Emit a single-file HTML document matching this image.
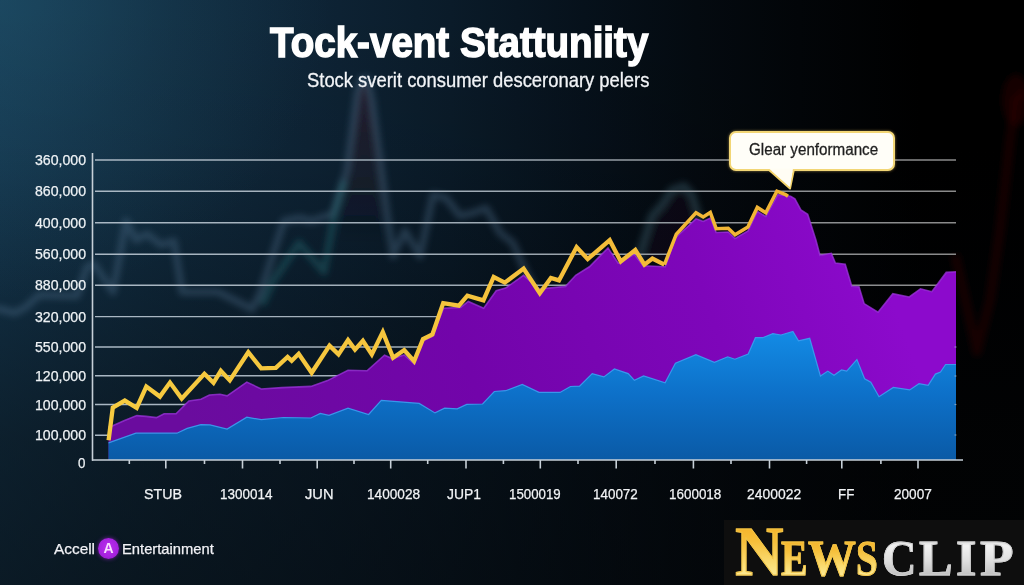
<!DOCTYPE html>
<html><head><meta charset="utf-8"><title>Tock-vent Stattuniity</title>
<style>
html,body{margin:0;padding:0;}
body{width:1024px;height:585px;overflow:hidden;position:relative;background:#000;font-family:"Liberation Sans",Arial,sans-serif;}
#bg{position:absolute;left:0;top:0;width:1024px;height:585px;
background:
 radial-gradient(ellipse 330px 300px at 0px 0px, rgba(34,88,112,0.45) 0%, rgba(34,88,112,0.18) 50%, rgba(34,88,112,0) 100%),
 linear-gradient(to bottom, rgba(0,0,0,0) 0%, rgba(0,0,0,0.06) 25%, rgba(1,3,6,0.28) 50%, rgba(3,5,7,0.5) 75%, rgba(3,5,7,0.6) 100%),
 linear-gradient(to right, #163a53 0%, #14344b 7%, #112c40 17%, #0e2436 30%, #0a1b29 44%, #06111b 57%, #040a10 68%, #020508 78%, #000 90%);}
svg{position:absolute;left:0;top:0;}
.tx{position:absolute;white-space:nowrap;transform-origin:0 0;}
.t1{color:#ffffff;-webkit-text-stroke:1.5px #ffffff;}
.t2{color:#f2f4f7;-webkit-text-stroke:0.3px #f2f4f7;}
.yl{color:#eef2f5;-webkit-text-stroke:0.25px #eef2f5;}
.xl{color:#f2f4f6;-webkit-text-stroke:0.25px #f2f4f6;}
.tip{position:absolute;left:728.5px;top:131px;width:162px;height:36px;background:#fffef8;border:2px solid #f2d676;border-radius:7px;box-sizing:content-box;box-shadow:0 0 3px rgba(255,215,110,0.55);}
.tiptxt{color:#1f1f1f;-webkit-text-stroke:0.3px #1f1f1f;}
.logo{color:#f2f2f6;-webkit-text-stroke:0.25px #f2f2f6;}
.lc{position:absolute;left:98px;top:537.8px;width:21px;height:21px;border-radius:50%;background:radial-gradient(circle at 50% 45%, #bc2ef0 0%, #a622de 60%, #8a14c0 100%);box-shadow:0 0 4px rgba(170,40,230,0.6);color:#f8dcff;text-align:center;line-height:21px;font-weight:bold;font-size:14px;}
.nc{position:absolute;left:724px;top:520px;width:300px;height:65px;background:#0e0e0e;}
.nl{-webkit-background-clip:text;background-clip:text;color:transparent;}
.nl.g{-webkit-text-stroke:0.9px #f3c547;background-image:linear-gradient(to bottom, #f4ad22 0%, #f6bf3a 35%, #fbe07a 70%, #fff4b4 100%);}
.nl.s{-webkit-text-stroke:0.9px #cfcfcf;background-image:linear-gradient(to bottom, #b8b8b8 0%, #f2f2f2 25%, #dedede 55%, #c4c4c4 80%, #e6e6e6 100%);}
</style></head><body>
<div id="bg"></div>
<svg width="1024" height="585" viewBox="0 0 1024 585">
<defs>
<filter id="blur6" x="-20%" y="-20%" width="140%" height="140%"><feGaussianBlur stdDeviation="3.2"/></filter>
<linearGradient id="gred" x1="0" y1="0" x2="0" y2="1"><stop offset="0" stop-color="#3a1c2c" stop-opacity="0.5"/><stop offset="0.6" stop-color="#2c1a26" stop-opacity="0.3"/><stop offset="1" stop-color="#1a1420" stop-opacity="0"/></linearGradient>
<linearGradient id="gy" gradientUnits="userSpaceOnUse" x1="100" y1="0" x2="790" y2="0"><stop offset="0" stop-color="#f6cb40"/><stop offset="0.6" stop-color="#f5c23c"/><stop offset="1" stop-color="#f1b234"/></linearGradient>
<linearGradient id="gg" gradientUnits="userSpaceOnUse" x1="95" y1="0" x2="956" y2="0"><stop offset="0" stop-color="#aab8c4"/><stop offset="0.45" stop-color="#9eaab4"/><stop offset="0.75" stop-color="#8e9296"/><stop offset="1" stop-color="#8a8a8a"/></linearGradient>
<linearGradient id="gp" gradientUnits="userSpaceOnUse" x1="200" y1="450" x2="860" y2="210"><stop offset="0" stop-color="#6a0c9e"/><stop offset="0.4" stop-color="#7204aa"/><stop offset="0.75" stop-color="#7e06ba"/><stop offset="1" stop-color="#8c0acc"/></linearGradient>
<linearGradient id="gb" gradientUnits="userSpaceOnUse" x1="0" y1="330" x2="0" y2="460"><stop offset="0" stop-color="#138ce6"/><stop offset="0.5" stop-color="#0d70c8"/><stop offset="1" stop-color="#0a5aa6"/></linearGradient>
</defs>
<g filter="url(#blur6)" fill="none" stroke-linejoin="round">
<polygon points="346.0,175.0 357.0,97.0 361.0,84.0 367.0,82.0 372.0,104.0 379.0,146.0 388.0,214.0 391.0,245.0 340.0,245.0 341.0,200.0" fill="url(#gred)" stroke="none"/>
<polyline points="-5.0,308.0 15.0,313.0 26.0,307.0 39.0,295.0 77.0,296.0 87.0,267.0 94.0,264.0 113.0,292.0 126.0,221.0 136.0,240.0 147.0,234.0 161.0,245.0 174.0,241.0 182.0,292.0 218.0,292.0 252.0,309.0 260.0,294.0 284.0,221.0 300.0,218.0 311.0,221.0 333.0,214.0 340.0,192.0 347.0,170.0 357.0,95.0 361.0,80.0 367.0,78.0 372.0,100.0 378.0,145.0 387.0,214.0 391.0,241.0 393.0,256.0 405.0,231.0 420.0,256.0 433.0,195.0 446.0,198.0 460.0,216.0 473.0,213.0 486.0,208.0 500.0,233.0 513.0,243.0 523.0,266.0 540.0,300.0" stroke="#527590" stroke-opacity="0.36" stroke-width="7"/>
<polyline points="262.0,305.0 273.0,281.0 299.0,243.0 324.0,272.0 335.0,212.0 344.0,181.0" stroke="#2f7a80" stroke-opacity="0.35" stroke-width="7"/>
<polygon points="645.0,240.0 655.0,214.0 666.0,200.0 676.0,190.0 686.0,189.0 694.0,200.0 700.0,225.0 700.0,260.0 645.0,260.0" fill="#2a1622" fill-opacity="0.22" stroke="none"/>
<polyline points="615.0,300.0 630.0,285.0 642.0,247.0 652.0,216.0 662.0,205.0 672.0,190.0 684.0,186.0 692.0,195.0 698.0,215.0 704.0,245.0" stroke="#4d7e90" stroke-opacity="0.3" stroke-width="8"/>
<polyline points="955.0,255.0 962.0,285.0 977.0,352.0 990.0,300.0 1000.0,230.0 1010.0,140.0 1016.0,100.0 1024.0,92.0" stroke="#3a0a0a" stroke-opacity="0.4" stroke-width="9"/>
<ellipse cx="1016" cy="100" rx="14" ry="26" fill="#2a0606" fill-opacity="0.5" stroke="none"/>
</g>
<g stroke="url(#gg)" stroke-width="1.4">
<line x1="95" y1="160" x2="956" y2="160" />
<line x1="95" y1="191.3" x2="956" y2="191.3" />
<line x1="95" y1="222.7" x2="956" y2="222.7" />
<line x1="95" y1="254.3" x2="956" y2="254.3" />
<line x1="95" y1="285.2" x2="956" y2="285.2" />
<line x1="95" y1="316.6" x2="956" y2="316.6" />
<line x1="95" y1="347" x2="956" y2="347" />
<line x1="95" y1="375.8" x2="956" y2="375.8" />
<line x1="95" y1="404.5" x2="956" y2="404.5" />
<line x1="95" y1="435.2" x2="956" y2="435.2" />
</g>
<path d="M108.5,460 L108.5,426.7 L112.8,425.8 L123.9,420.7 L136.8,415.6 L146.2,416.4 L156.4,417.6 L164.1,413.8 L176.0,413.8 L188.9,401.0 L200.9,399.3 L209.4,395.0 L220.0,394.2 L227.1,395.8 L246.8,382.1 L261.3,389.0 L281.8,387.6 L310.9,386.4 L327.5,380.6 L348.0,370.2 L367.0,370.8 L384.5,355.2 L392.2,358.6 L404.2,354.9 L414.1,363.8 L423.0,340.7 L432.4,336.4 L443.5,308.2 L460.6,307.4 L468.3,301.4 L483.7,308.2 L496.2,290.7 L505.6,288.1 L523.6,275.3 L539.0,289.0 L565.5,286.4 L575.7,275.3 L589.4,266.8 L608.0,247.9 L618.2,263.2 L634.4,254.4 L643.0,265.8 L665.2,266.7 L675.5,237.6 L696.0,218.8 L703.2,221.5 L710.3,218.0 L716.2,232.5 L728.2,232.0 L735.0,238.5 L747.9,231.0 L757.3,211.5 L765.8,216.5 L777.8,194.5 L790.6,196.2 L794.9,198.8 L800.9,209.9 L807.7,214.2 L815.9,240.0 L820.0,255.4 L831.3,253.3 L835.4,263.0 L845.2,264.2 L851.8,286.2 L859.0,286.8 L864.1,303.6 L878.0,312.2 L892.8,293.7 L909.2,297.0 L920.5,288.8 L931.8,291.7 L946.2,272.4 L956.0,271.8 L956.0,460 Z" fill="url(#gp)"/>
<polyline points="108.5,426.7 112.8,425.8 123.9,420.7 136.8,415.6 146.2,416.4 156.4,417.6 164.1,413.8 176.0,413.8 188.9,401.0 200.9,399.3 209.4,395.0 220.0,394.2 227.1,395.8 246.8,382.1 261.3,389.0 281.8,387.6 310.9,386.4 327.5,380.6 348.0,370.2 367.0,370.8 384.5,355.2 392.2,358.6 404.2,354.9 414.1,363.8 423.0,340.7 432.4,336.4 443.5,308.2 460.6,307.4 468.3,301.4 483.7,308.2 496.2,290.7 505.6,288.1 523.6,275.3 539.0,289.0 565.5,286.4 575.7,275.3 589.4,266.8 608.0,247.9 618.2,263.2 634.4,254.4 643.0,265.8 665.2,266.7 675.5,237.6 696.0,218.8 703.2,221.5 710.3,218.0 716.2,232.5 728.2,232.0 735.0,238.5 747.9,231.0 757.3,211.5 765.8,216.5 777.8,194.5 790.6,196.2 794.9,198.8 800.9,209.9 807.7,214.2 815.9,240.0 820.0,255.4 831.3,253.3 835.4,263.0 845.2,264.2 851.8,286.2 859.0,286.8 864.1,303.6 878.0,312.2 892.8,293.7 909.2,297.0 920.5,288.8 931.8,291.7 946.2,272.4 956.0,271.8" fill="none" stroke="#9c34dc" stroke-width="1.6" opacity="0.75"/>
<path d="M108.5,460 L108.5,442.9 L135.9,433.2 L176.9,433.2 L187.2,428.4 L200.9,424.6 L210.0,424.9 L227.1,429.1 L246.8,417.2 L261.3,419.7 L283.5,417.5 L310.9,418.0 L320.3,413.4 L329.0,415.4 L348.0,408.2 L368.6,414.5 L381.3,400.3 L419.2,403.4 L435.0,412.9 L444.6,408.2 L457.2,408.8 L466.7,404.4 L482.6,404.0 L494.3,391.5 L505.6,390.7 L522.3,384.4 L539.0,392.4 L560.0,392.4 L570.4,386.5 L579.6,386.1 L592.2,373.6 L603.9,376.9 L614.4,369.0 L628.2,373.6 L634.4,380.3 L643.6,376.0 L665.1,382.8 L675.4,363.3 L695.9,354.7 L714.4,362.3 L727.7,356.8 L734.9,359.2 L748.2,354.1 L755.4,337.7 L762.6,337.7 L772.8,333.6 L781.0,335.0 L792.9,331.5 L798.5,340.8 L809.7,338.3 L820.4,376.0 L827.8,371.1 L834.0,375.2 L841.5,369.9 L846.7,371.1 L856.9,359.6 L864.6,378.8 L870.8,382.3 L879.0,396.7 L893.3,387.4 L909.7,389.9 L919.0,383.7 L928.2,385.4 L935.4,374.1 L940.5,372.0 L945.6,364.5 L956.0,364.5 L956.0,460 Z" fill="url(#gb)"/>
<polyline points="108.5,442.9 135.9,433.2 176.9,433.2 187.2,428.4 200.9,424.6 210.0,424.9 227.1,429.1 246.8,417.2 261.3,419.7 283.5,417.5 310.9,418.0 320.3,413.4 329.0,415.4 348.0,408.2 368.6,414.5 381.3,400.3 419.2,403.4 435.0,412.9 444.6,408.2 457.2,408.8 466.7,404.4 482.6,404.0 494.3,391.5 505.6,390.7 522.3,384.4 539.0,392.4 560.0,392.4 570.4,386.5 579.6,386.1 592.2,373.6 603.9,376.9 614.4,369.0 628.2,373.6 634.4,380.3 643.6,376.0 665.1,382.8 675.4,363.3 695.9,354.7 714.4,362.3 727.7,356.8 734.9,359.2 748.2,354.1 755.4,337.7 762.6,337.7 772.8,333.6 781.0,335.0 792.9,331.5 798.5,340.8 809.7,338.3 820.4,376.0 827.8,371.1 834.0,375.2 841.5,369.9 846.7,371.1 856.9,359.6 864.6,378.8 870.8,382.3 879.0,396.7 893.3,387.4 909.7,389.9 919.0,383.7 928.2,385.4 935.4,374.1 940.5,372.0 945.6,364.5 956.0,364.5" fill="none" stroke="#3aa0f0" stroke-width="1.2" opacity="0.9"/>
<polyline points="108.6,440.2 112.8,407.6 124.8,400.6 136.7,407.8 146.3,386.5 159.9,396.6 170.0,382.6 181.7,398.6 204.4,373.8 213.5,382.8 220.8,370.8 229.8,380.4 248.3,352.2 261.2,368.4 275.8,367.9 287.6,356.9 291.7,360.8 298.7,353.8 311.7,372.8 329.5,345.6 338.5,354.4 348.0,340.1 355.0,349.6 362.9,340.8 371.8,354.4 382.8,332.1 393.1,357.8 404.2,350.1 414.1,361.2 423.0,339.0 432.4,334.4 443.2,303.1 458.9,305.6 467.4,295.7 483.4,300.4 493.7,277.0 504.8,282.6 523.6,268.5 539.8,293.2 550.9,277.9 559.0,280.4 576.6,247.1 587.7,259.1 609.7,240.2 620.8,261.5 635.3,249.9 644.4,264.6 652.4,258.5 664.4,264.6" fill="none" stroke="url(#gy)" stroke-width="4.3" stroke-linejoin="miter" stroke-miterlimit="3"/>
<polyline points="664.4,264.6 676.3,234.2 696.0,212.8 703.2,217.0 710.3,212.5 716.2,228.7 728.2,228.2 735.0,234.7 747.9,227.0 757.3,207.4 765.8,212.8 776.9,191.1 785.5,194.5 788.0,196.2" fill="none" stroke="url(#gy)" stroke-width="3.5" stroke-linejoin="miter" stroke-miterlimit="3"/>
<g stroke="#c7d0d8" stroke-width="1.6">
<line x1="92.5" y1="153" x2="92.5" y2="460.8"/>
<line x1="92" y1="460" x2="963" y2="460"/>
<line x1="165.8" y1="460" x2="165.8" y2="468.5" />
<line x1="242.5" y1="460" x2="242.5" y2="468.5" />
<line x1="317.2" y1="460" x2="317.2" y2="468.5" />
<line x1="390.7" y1="460" x2="390.7" y2="468.5" />
<line x1="466" y1="460" x2="466" y2="468.5" />
<line x1="540.3" y1="460" x2="540.3" y2="468.5" />
<line x1="616.2" y1="460" x2="616.2" y2="468.5" />
<line x1="693.4" y1="460" x2="693.4" y2="468.5" />
<line x1="769.5" y1="460" x2="769.5" y2="468.5" />
<line x1="841.8" y1="460" x2="841.8" y2="468.5" />
<line x1="918" y1="460" x2="918" y2="468.5" />
<line x1="129.3" y1="460" x2="129.3" y2="464" />
<line x1="204.5" y1="460" x2="204.5" y2="464" />
<line x1="280" y1="460" x2="280" y2="464" />
<line x1="354" y1="460" x2="354" y2="464" />
<line x1="427.7" y1="460" x2="427.7" y2="464" />
<line x1="503.4" y1="460" x2="503.4" y2="464" />
<line x1="578" y1="460" x2="578" y2="464" />
<line x1="655" y1="460" x2="655" y2="464" />
<line x1="731" y1="460" x2="731" y2="464" />
<line x1="806.6" y1="460" x2="806.6" y2="464" />
<line x1="880.9" y1="460" x2="880.9" y2="464" />
</g>
<g stroke="#b8c4d0" stroke-width="1.2" opacity="0.6"><line x1="954.5" y1="347" x2="956.5" y2="347"/><line x1="954.5" y1="376" x2="956.5" y2="376"/><line x1="954.5" y1="404.5" x2="956.5" y2="404.5"/><line x1="954.5" y1="435" x2="956.5" y2="435"/></g>
<path d="M768,169 L790,188.5 L794,169 Z" fill="#fffdf4" stroke="#f3d36a" stroke-width="2" stroke-linejoin="round"/>
</svg>
<div class="tx yl" style="left:34.60px;top:152.06px;font-size:15.4px;line-height:15.4px;transform:scaleX(0.918);">360,000</div>
<div class="tx yl" style="left:34.60px;top:183.36px;font-size:15.4px;line-height:15.4px;transform:scaleX(0.918);">860,000</div>
<div class="tx yl" style="left:34.60px;top:214.76px;font-size:15.4px;line-height:15.4px;transform:scaleX(0.918);">400,000</div>
<div class="tx yl" style="left:34.60px;top:246.36px;font-size:15.4px;line-height:15.4px;transform:scaleX(0.918);">560,000</div>
<div class="tx yl" style="left:34.60px;top:277.26px;font-size:15.4px;line-height:15.4px;transform:scaleX(0.918);">880,000</div>
<div class="tx yl" style="left:34.60px;top:308.66px;font-size:15.4px;line-height:15.4px;transform:scaleX(0.918);">320,000</div>
<div class="tx yl" style="left:34.60px;top:339.06px;font-size:15.4px;line-height:15.4px;transform:scaleX(0.918);">550,000</div>
<div class="tx yl" style="left:34.60px;top:367.86px;font-size:15.4px;line-height:15.4px;transform:scaleX(0.918);">120,000</div>
<div class="tx yl" style="left:34.60px;top:396.56px;font-size:15.4px;line-height:15.4px;transform:scaleX(0.918);">100,000</div>
<div class="tx yl" style="left:34.60px;top:427.26px;font-size:15.4px;line-height:15.4px;transform:scaleX(0.918);">100,000</div>
<div class="tx yl" style="left:78.10px;top:455.36px;font-size:15.4px;line-height:15.4px;transform:scaleX(0.866);">0</div>
<div class="tx xl" style="left:143.90px;top:486.00px;font-size:15px;line-height:15px;transform:scaleX(0.947);">STUB</div>
<div class="tx xl" style="left:220.00px;top:486.00px;font-size:15px;line-height:15px;transform:scaleX(0.897);">1300014</div>
<div class="tx xl" style="left:305.20px;top:486.00px;font-size:15px;line-height:15px;transform:scaleX(0.977);">JUN</div>
<div class="tx xl" style="left:366.50px;top:486.00px;font-size:15px;line-height:15px;transform:scaleX(0.909);">1400028</div>
<div class="tx xl" style="left:447.40px;top:486.00px;font-size:15px;line-height:15px;transform:scaleX(0.927);">JUP1</div>
<div class="tx xl" style="left:509.40px;top:486.00px;font-size:15px;line-height:15px;transform:scaleX(0.885);">1500019</div>
<div class="tx xl" style="left:592.50px;top:486.00px;font-size:15px;line-height:15px;transform:scaleX(0.895);">140072</div>
<div class="tx xl" style="left:668.50px;top:486.00px;font-size:15px;line-height:15px;transform:scaleX(0.896);">1600018</div>
<div class="tx xl" style="left:747.20px;top:486.00px;font-size:15px;line-height:15px;transform:scaleX(0.927);">2400022</div>
<div class="tx xl" style="left:837.70px;top:486.00px;font-size:15px;line-height:15px;transform:scaleX(0.889);">FF</div>
<div class="tx xl" style="left:893.50px;top:486.00px;font-size:15px;line-height:15px;transform:scaleX(0.906);">20007</div>
<div class="tip"></div>
<svg width="1024" height="585" viewBox="0 0 1024 585" style="pointer-events:none"><path d="M769,168.5 L790,187 L793,168.5 Z" fill="#fffdf4"/></svg>
<div class="tx t1" style="left:269.50px;top:20.74px;font-size:42.6px;line-height:42.6px;transform:scaleX(0.905);font-weight:bold;">Tock-vent Stattuniity</div>
<div class="tx t2" style="left:307.00px;top:69.90px;font-size:20.2px;line-height:20.2px;transform:scaleX(0.911);">Stock sverit consumer desceronary pelers</div>
<div class="tx tiptxt" style="left:748.50px;top:141.66px;font-size:16px;line-height:16px;transform:scaleX(0.949);">Glear yenformance</div>
<div class="tx logo" style="left:54.00px;top:541.00px;font-size:15px;line-height:15px;transform:scaleX(1.025);">Accell</div>
<div class="tx logo" style="left:122.00px;top:541.00px;font-size:15px;line-height:15px;transform:scaleX(0.983);">Entertainment</div>
<div class="lc">A</div>
<div class="nc"></div>
<div class="tx nl g" style="left:735.00px;top:516.67px;font-size:70px;line-height:70px;transform:scaleX(0.961);font-weight:bold;font-family:'Liberation Serif',serif;">N</div>
<div class="tx nl g" style="left:780.50px;top:532.59px;font-size:51px;line-height:51px;transform:scaleX(0.778);font-weight:bold;font-family:'Liberation Serif',serif;">E</div>
<div class="tx nl g" style="left:807.50px;top:532.59px;font-size:51px;line-height:51px;transform:scaleX(0.939);font-weight:bold;font-family:'Liberation Serif',serif;">W</div>
<div class="tx nl g" style="left:856.00px;top:532.59px;font-size:51px;line-height:51px;transform:scaleX(0.767);font-weight:bold;font-family:'Liberation Serif',serif;">S</div>
<div class="tx nl s" style="left:882.00px;top:532.59px;font-size:51px;line-height:51px;transform:scaleX(0.936);font-weight:bold;font-family:'Liberation Serif',serif;">C</div>
<div class="tx nl s" style="left:919.40px;top:532.59px;font-size:51px;line-height:51px;transform:scaleX(0.987);font-weight:bold;font-family:'Liberation Serif',serif;">L</div>
<div class="tx nl s" style="left:956.00px;top:532.59px;font-size:51px;line-height:51px;transform:scaleX(1.031);font-weight:bold;font-family:'Liberation Serif',serif;">I</div>
<div class="tx nl s" style="left:979.50px;top:532.59px;font-size:51px;line-height:51px;transform:scaleX(1.077);font-weight:bold;font-family:'Liberation Serif',serif;">P</div>
</body></html>
